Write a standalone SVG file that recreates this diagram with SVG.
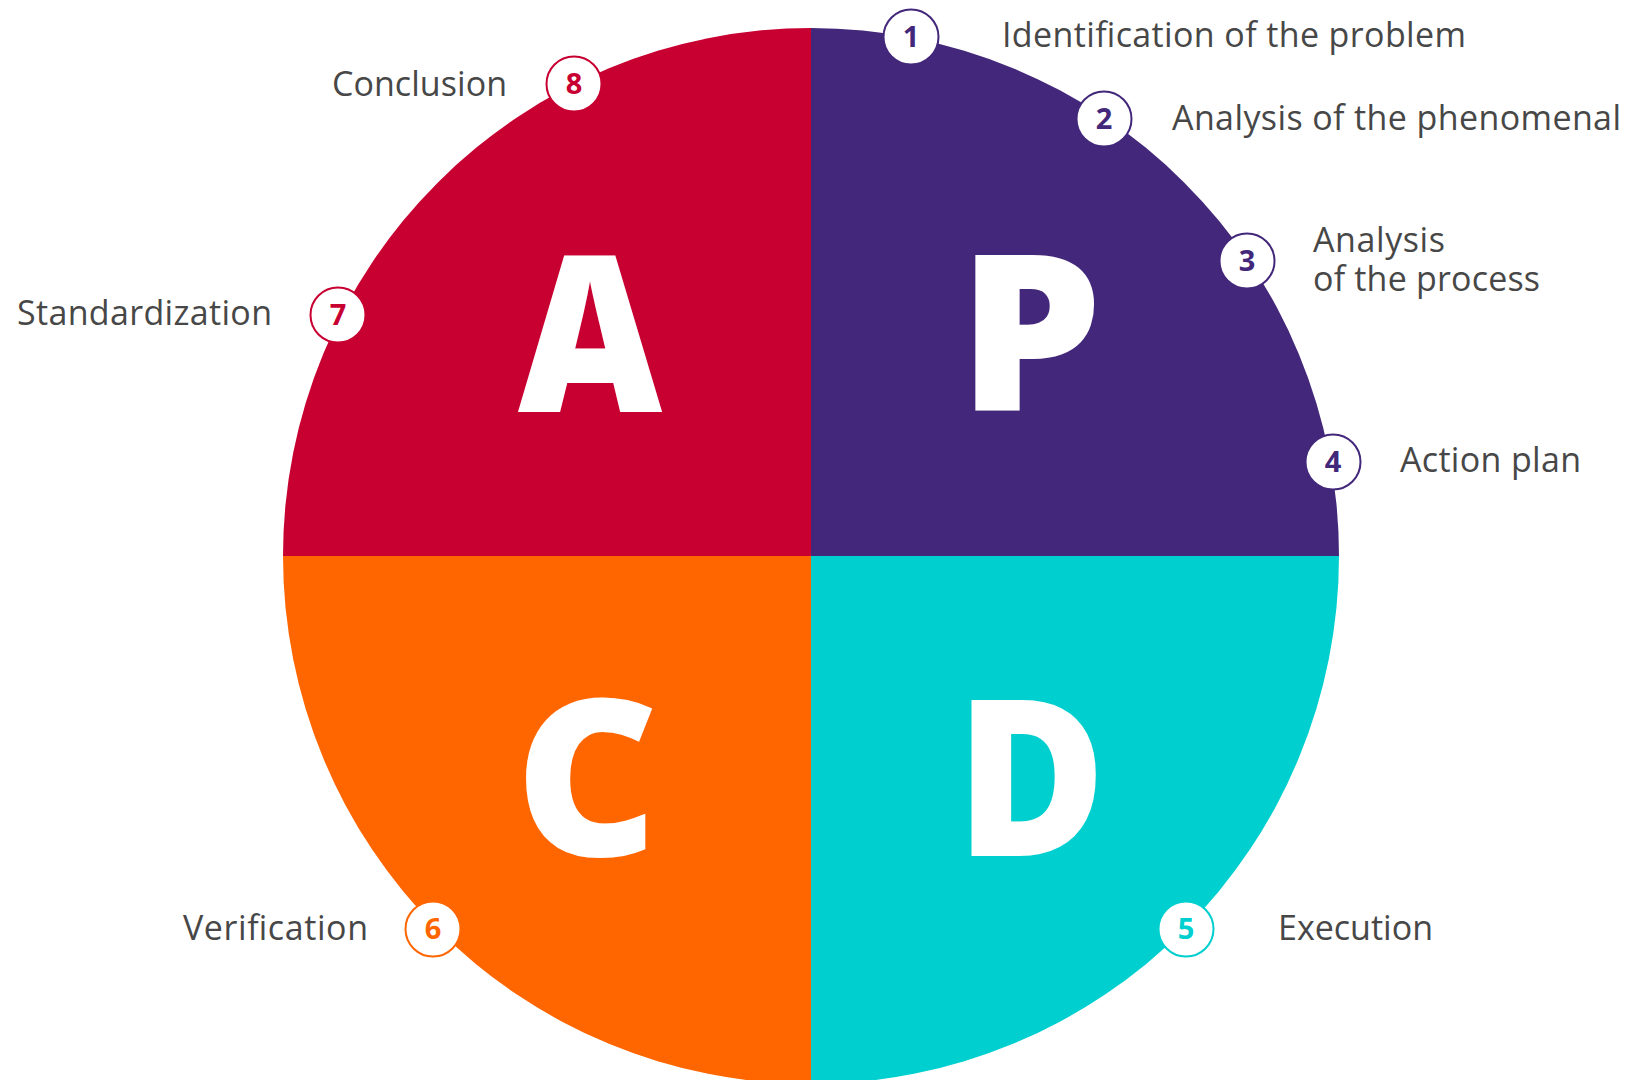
<svg xmlns="http://www.w3.org/2000/svg" width="1637" height="1080" viewBox="0 0 1637 1080">
  <style>
    .big { font-family: "Open Sans", "Liberation Sans", sans-serif; font-weight: 800; font-size: 218px; fill: #ffffff; text-anchor: middle; }
    .lbl { font-family: "Open Sans", "Liberation Sans", sans-serif; font-size: 34px; fill: #474747; }
    .num { font-family: "Open Sans", "Liberation Sans", sans-serif; font-weight: 700; font-size: 29px; text-anchor: middle; }
    .badge { fill: #ffffff; stroke-width: 2; }
  </style>
  <rect width="1637" height="1080" fill="#ffffff"/>
  <g id="quadrant-A">
    <path d="M811,556 L283,556 A528,528 0 0 1 811,28 Z" fill="#C80032"/>
    <text class="big" transform="translate(590,412) scale(0.91,1)" x="0" y="0">A</text>
  </g>
  <g id="quadrant-P">
    <path d="M811,556 L811,28 A528,528 0 0 1 1339,556 Z" fill="#43277A"/>
    <text class="big" transform="translate(1030,411) scale(1.05,1)" x="0" y="0">P</text>
  </g>
  <g id="quadrant-D">
    <path d="M811,556 L1339,556 A528,528 0 0 1 811,1084 Z" fill="#00CFCF"/>
    <text class="big" transform="translate(1031,856) scale(0.94,1)" x="0" y="0">D</text>
  </g>
  <g id="quadrant-C">
    <path d="M811,556 L811,1084 A528,528 0 0 1 283,556 Z" fill="#FF6600"/>
    <text class="big" transform="translate(587,856) scale(1.02,1)" x="0" y="0">C</text>
  </g>
  <g id="connectors"></g>
  <g id="step-1">
    <circle class="badge" cx="911" cy="37" r="27.5" stroke="#43277A"/>
    <text class="num" x="911" y="47" fill="#43277A">1</text>
    <text class="lbl" x="1002" y="47" textLength="464">Identification of the problem</text>
  </g>
  <g id="step-2">
    <circle class="badge" cx="1104" cy="119" r="27.5" stroke="#43277A"/>
    <text class="num" x="1104" y="129" fill="#43277A">2</text>
    <text class="lbl" x="1172" y="130" textLength="449">Analysis of the phenomenal</text>
  </g>
  <g id="step-3">
    <circle class="badge" cx="1247" cy="261" r="27.5" stroke="#43277A"/>
    <text class="num" x="1247" y="271" fill="#43277A">3</text>
    <text class="lbl"><tspan x="1313" y="252" textLength="132">Analysis</tspan><tspan x="1313" y="291" textLength="227">of the process</tspan></text>
  </g>
  <g id="step-4">
    <circle class="badge" cx="1333" cy="462" r="27.5" stroke="#43277A"/>
    <text class="num" x="1333" y="472" fill="#43277A">4</text>
    <text class="lbl" x="1400" y="472" textLength="181">Action plan</text>
  </g>
  <g id="step-5">
    <circle class="badge" cx="1186" cy="929" r="27.5" stroke="#00CFCF"/>
    <text class="num" x="1186" y="939" fill="#00CFCF">5</text>
    <text class="lbl" x="1278" y="940" textLength="155">Execution</text>
  </g>
  <g id="step-6">
    <circle class="badge" cx="433" cy="929" r="27.5" stroke="#FF6600"/>
    <text class="num" x="433" y="939" fill="#FF6600">6</text>
    <text class="lbl" x="183" y="940" textLength="185">Verification</text>
  </g>
  <g id="step-7">
    <circle class="badge" cx="338" cy="315" r="27.5" stroke="#C80032"/>
    <text class="num" x="338" y="325" fill="#C80032">7</text>
    <text class="lbl" x="17" y="325" textLength="255">Standardization</text>
  </g>
  <g id="step-8">
    <circle class="badge" cx="574" cy="84" r="27.5" stroke="#C80032"/>
    <text class="num" x="574" y="94" fill="#C80032">8</text>
    <text class="lbl" x="332" y="96" textLength="175">Conclusion</text>
  </g>
</svg>
